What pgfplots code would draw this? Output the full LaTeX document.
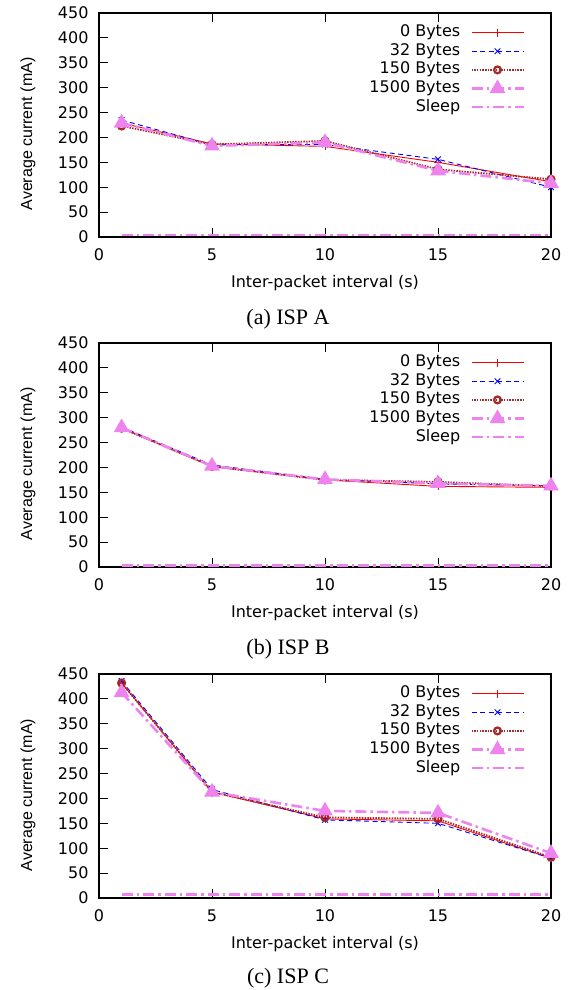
\documentclass[border=0pt]{standalone}
\usepackage{fontspec}
\setmainfont{Liberation Serif}
\newfontfamily\axfont{DejaVu Sans}
\newfontfamily\ylfont{Liberation Sans}
\usepackage{pgfplots}
\pgfplotsset{compat=1.18}

\definecolor{gpred}{RGB}{255,0,0}
\definecolor{gpblue}{RGB}{0,0,255}
\definecolor{gpbrown}{RGB}{165,42,42}
\definecolor{gpviolet}{RGB}{238,130,238}

\pgfplotsset{
  legend image code/.code={
    \draw[mark repeat=2,mark phase=2,#1] plot coordinates {(0pt,0pt) (26pt,0pt) (52pt,0pt)};
  },
  isp/.style={
    scale only axis, width=452pt, height=224pt,
    xmin=0, xmax=20, ymin=0, ymax=450,
    xtick={0,5,10,15,20}, ytick={0,50,...,450},
    tick align=inside, xtick pos=both, ytick pos=left,
    major tick length=9pt,
    axis line style={line width=1.1pt},
    every tick/.style={black, line width=0.9pt},
    font=\axfont\fontsize{16}{18}\selectfont,
    /pgf/number format/assume math mode=true,
    xticklabel style={yshift=-8pt},
    yticklabel style={xshift=-7pt},
    xlabel={Inter-packet interval (s)},
    ylabel={Average current (mA)},
    every axis x label/.style={at={(axis description cs:0.5,-0.205)}, anchor=center},
    every axis y label/.style={at={(axis description cs:-0.157,0.46)}, rotate=90, anchor=center,
      font=\ylfont\fontsize{16}{18}\selectfont},
    legend plot pos=right,
    legend cell align=right,
    legend style={draw=none, fill=none, at={(1,1)}, anchor=north east,
      xshift=-23pt, yshift=-9pt, row sep=1.6pt, column sep=9pt,
      nodes={inner sep=1pt, text height=11.5pt, text depth=3.5pt}},
  },
  s0/.style={gpred, line width=0.9pt, mark=+, mark size=4pt},
  s32/.style={gpblue, line width=0.9pt, dash pattern=on 5pt off 3.5pt, mark=x, mark size=4pt, mark options={solid}},
  s150/.style={gpbrown, line width=1.8pt, dash pattern=on 1.5pt off 1.2pt, mark=o, mark size=3.4pt, mark options={solid, line width=2.3pt}},
  s1500/.style={gpviolet, line width=2.6pt, dash pattern=on 11pt off 4pt on 2.5pt off 4pt, mark=triangle*, mark size=6.5pt, mark options={solid}},
  ssleep/.style={gpviolet, line width=2.6pt, dash pattern=on 11pt off 4pt on 2.5pt off 4pt},
}

\begin{document}
\begin{tikzpicture}
\path[use as bounding box] (0pt,0pt) rectangle (576pt,-990pt);

% (a) ISP A
\begin{axis}[isp, at={(99pt,-237pt)}, anchor=south west]
\addplot[s0] coordinates {(1,229) (5,187) (10,182) (15,150) (20,111)};
\addlegendentry{0 Bytes}
\addplot[s32] coordinates {(1,235) (5,185) (10,186) (15,156) (20,100)};
\addlegendentry{32 Bytes}
\addplot[s150] coordinates {(1,223) (5,186) (10,193) (15,136) (20,116)};
\addlegendentry{150 Bytes}
\addplot[s1500] coordinates {(1,229) (5,183) (10,190) (15,133) (20,108)};
\addlegendentry{1500 Bytes}
\addplot[ssleep] coordinates {(1,4) (5,4) (10,4) (15,4) (20,4)};
\addlegendentry{Sleep}
\end{axis}
\node[font=\fontsize{22}{24}\selectfont] at (288pt,-319pt) {(a) ISP A};

% (b) ISP B
\begin{axis}[isp, at={(99pt,-567pt)}, anchor=south west]
\addplot[s0] coordinates {(1,279) (5,202) (10,175) (15,162) (20,160)};
\addlegendentry{0 Bytes}
\addplot[s32] coordinates {(1,281) (5,205) (10,176) (15,167) (20,163)};
\addlegendentry{32 Bytes}
\addplot[s150] coordinates {(1,279) (5,202) (10,175) (15,171) (20,162)};
\addlegendentry{150 Bytes}
\addplot[s1500] coordinates {(1,280) (5,203) (10,176) (15,168) (20,163)};
\addlegendentry{1500 Bytes}
\addplot[ssleep] coordinates {(1,3) (5,3) (10,3) (15,3) (20,3)};
\addlegendentry{Sleep}
\end{axis}
\node[font=\fontsize{22}{24}\selectfont] at (288pt,-649pt) {(b) ISP B};

% (c) ISP C
\begin{axis}[isp, at={(99pt,-898pt)}, anchor=south west]
\addplot[s0] coordinates {(1,432) (5,213) (10,159) (15,155) (20,80)};
\addlegendentry{0 Bytes}
\addplot[s32] coordinates {(1,436) (5,218) (10,157) (15,150) (20,80)};
\addlegendentry{32 Bytes}
\addplot[s150] coordinates {(1,432) (5,213) (10,162) (15,159) (20,82)};
\addlegendentry{150 Bytes}
\addplot[s1500] coordinates {(1,413) (5,213) (10,175) (15,171) (20,90)};
\addlegendentry{1500 Bytes}
\addplot[ssleep] coordinates {(1,7) (5,7) (10,7) (15,7) (20,7)};
\addlegendentry{Sleep}
\end{axis}
\node[font=\fontsize{22}{24}\selectfont] at (288pt,-978pt) {(c) ISP C};
\end{tikzpicture}
\end{document}
